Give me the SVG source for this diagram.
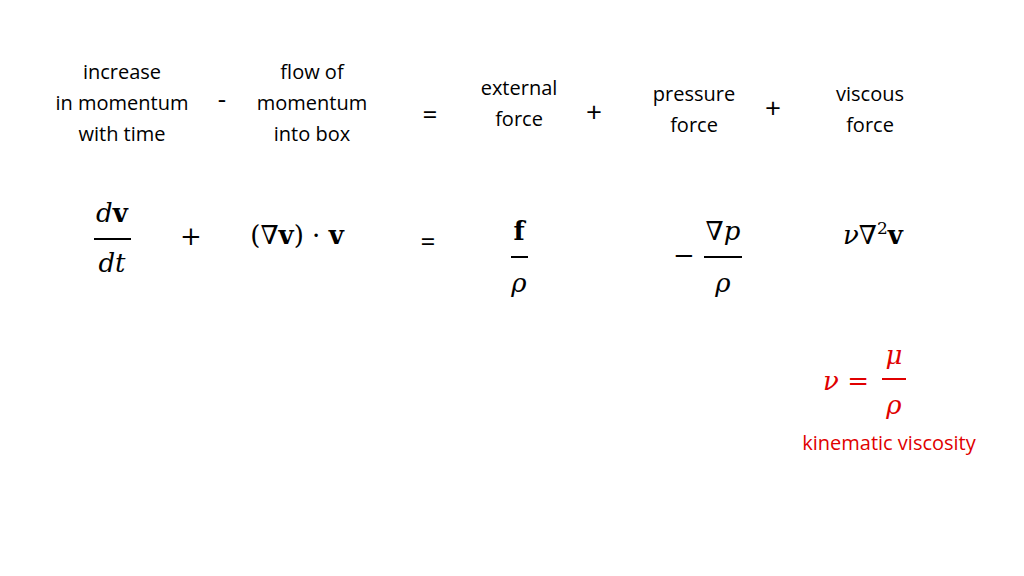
<svg xmlns="http://www.w3.org/2000/svg" width="1024" height="576" viewBox="0 0 1024 576">
<style>
.t{font-family:"Open Sans","Liberation Sans",sans-serif;font-size:20px;fill:#000;text-anchor:middle}
.m{font-family:"DejaVu Serif","Liberation Serif",serif;font-size:26px;fill:#000;text-anchor:middle}
.i{font-style:italic}
.b{font-weight:bold}
.r{fill:#e00000}
line{stroke:#000;stroke-width:2}
</style>
<rect width="1024" height="576" fill="#fff"/>
<g class="t">
<text x="122" y="79">increase</text><text x="122" y="110">in momentum</text><text x="122" y="141">with time</text>
<text x="222" y="108" font-size="26">-</text>
<text x="312" y="79">flow of</text><text x="312" y="110">momentum</text><text x="312" y="141">into box</text>
<text x="430" y="124" font-size="26">=</text>
<text x="519" y="95">external</text><text x="519" y="126">force</text>
<text x="594" y="122" font-size="28">+</text>
<text x="694" y="101">pressure</text><text x="694" y="132">force</text>
<text x="773" y="118" font-size="28">+</text>
<text x="870" y="101">viscous</text><text x="870" y="132">force</text>
<text x="428" y="251" font-size="26">=</text>
</g>
<g class="m">
<text x="112" y="222"><tspan class="i">d</tspan><tspan class="b">v</tspan></text>
<line x1="94" y1="239" x2="131" y2="239"/>
<text x="112" y="272" class="i">dt</text>
<text x="191" y="245">+</text>
<text x="297" y="244">(∇<tspan class="b">v</tspan>) · <tspan class="b">v</tspan></text>
<text x="519" y="240" class="b">f</text>
<line x1="511" y1="257" x2="528" y2="257"/>
<text x="519" y="292" class="i">ρ</text>
<text x="684" y="264">−</text>
<text x="723" y="240">∇<tspan class="i">p</tspan></text>
<line x1="704" y1="257" x2="742" y2="257"/>
<text x="723" y="292" class="i">ρ</text>
<text x="873" y="244"><tspan class="i">ν</tspan>∇<tspan font-size="17" dy="-10">2</tspan><tspan class="b" dy="10">v</tspan></text>
<text x="846" y="390" class="r"><tspan class="i">ν</tspan> =</text>
<text x="894" y="364" class="r i">μ</text>
<line x1="882" y1="379" x2="906" y2="379" style="stroke:#e00000"/>
<text x="894" y="414" class="r i">ρ</text>
</g>
<text x="889" y="450" class="t r">kinematic viscosity</text>
</svg>
